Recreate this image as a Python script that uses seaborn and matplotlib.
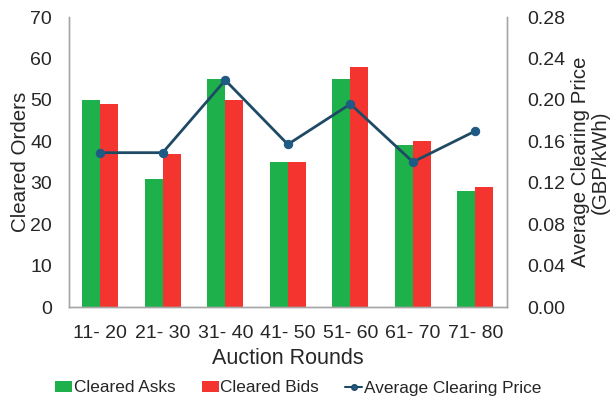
import matplotlib
matplotlib.use("Agg")
import matplotlib.pyplot as plt
import seaborn as sns
import pandas as pd
from matplotlib.lines import Line2D

rounds = ["11- 20", "21- 30", "31- 40", "41- 50", "51- 60", "61- 70", "71- 80"]
cleared_asks = [50, 31, 55, 35, 55, 39, 28]
cleared_bids = [49, 37, 50, 35, 58, 40, 29]
avg_price = [0.149, 0.149, 0.219, 0.157, 0.196, 0.140, 0.170]

sns.set_theme(style="white")
plt.rcParams['font.family'] = ['Liberation Sans', 'DejaVu Sans']

df = pd.DataFrame({
    "round": rounds * 2,
    "value": cleared_asks + cleared_bids,
    "series": ["Cleared Asks"] * len(rounds) + ["Cleared Bids"] * len(rounds),
})

fig = plt.figure(figsize=(6.15, 4.0), dpi=100)
ax = fig.add_axes([0.112, 0.2325, 0.712, 0.725])
sns.barplot(data=df, x="round", y="value", hue="series", order=rounds,
            palette={"Cleared Asks": "#1DB04B", "Cleared Bids": "#F4352F"},
            width=0.575, gap=0, saturation=1, linewidth=0, ax=ax, legend=True)
ax.set_ylim(0, 70)
ax.set_yticks(range(0, 71, 10))
ax.set_xlim(-0.5, len(rounds) - 0.5)
ax.set_xlabel("Auction Rounds", fontsize=15.5, labelpad=4)
ax.set_ylabel("Cleared Orders", fontsize=14.8, labelpad=0.5)
ax.tick_params(axis="x", labelsize=14, length=0, pad=13)
ax.tick_params(axis="y", labelsize=14, length=0, pad=12)

ax2 = ax.twinx()
sns.lineplot(x=list(range(len(rounds))), y=avg_price, ax=ax2, color="#1F4A66",
             marker="o", markersize=6, markerfacecolor="#1F5A85",
             markeredgecolor="#1F5A85", linewidth=2)
ax2.set_ylim(0, 0.28)
ticks2 = [0.00, 0.04, 0.08, 0.12, 0.16, 0.20, 0.24, 0.28]
ax2.set_yticks(ticks2)
ax2.set_yticklabels([f"{v:.2f}" for v in ticks2])
ax2.tick_params(axis="y", labelsize=14, length=0, pad=15)
ax2.set_ylabel("Average Clearing Price\n(GBP/kWh)", fontsize=14.8, labelpad=4, linespacing=1.05)

for a in (ax, ax2):
    for s in a.spines.values():
        s.set_color("#A6A6A6")
        s.set_linewidth(1)
    a.spines["top"].set_visible(False)

if ax.get_legend() is not None:
    ax.get_legend().remove()

h1, l1 = ax.get_legend_handles_labels()
line_handle = Line2D([], [], color="#1F4A66", marker="o", markersize=4,
                     markerfacecolor="#1F5A85", linewidth=1.5)
fig.legend(h1 + [line_handle], l1 + ["Average Clearing Price"],
           loc="center", bbox_to_anchor=(0.485, 0.03), ncol=3, frameon=False,
           fontsize=12.4, handlelength=1.0, handleheight=0.55, handletextpad=0.1,
           columnspacing=1.5)

fig.savefig("out.png", dpi=100)
